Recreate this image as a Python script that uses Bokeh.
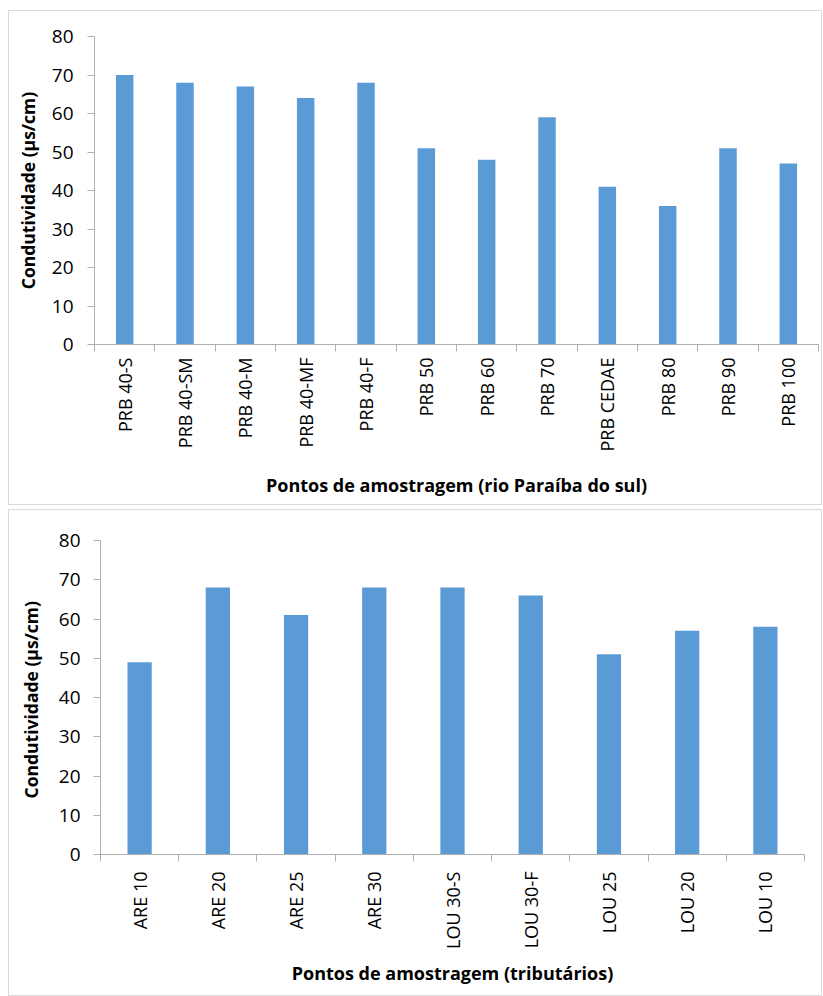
import math
import numpy as np
from bokeh.plotting import figure
from bokeh.models import FixedTicker, Range1d
from bokeh.embed import file_html
from bokeh.resources import INLINE

# ---- data ----
rio_points = ["PRB 40-S", "PRB 40-SM", "PRB 40-M", "PRB 40-MF", "PRB 40-F", "PRB 50",
              "PRB 60", "PRB 70", "PRB CEDAE", "PRB 80", "PRB 90", "PRB 100"]
rio_values = [70, 68, 67, 64, 68, 51, 48, 59, 41, 36, 51, 47]

trib_points = ["ARE 10", "ARE 20", "ARE 25", "ARE 30", "LOU 30-S", "LOU 30-F",
               "LOU 25", "LOU 20", "LOU 10"]
trib_values = [49, 68, 61, 68, 68, 66, 51, 57, 58]

y_ticks = [0, 10, 20, 30, 40, 50, 60, 70, 80]

BAR = "#5b9bd5"
AXIS = "#b0b0b0"
FONT = "Open Sans"


def make_panel(cats, vals, xtitle, ytitle, width, height, borders, bar_w,
               ylab_standoff, ytitle_standoff, xlab_standoff, xtitle_standoff, margin):
    n = len(cats)
    xs = np.arange(n) + 0.5
    p = figure(width=width, height=height, output_backend="svg",
               toolbar_location=None, x_range=Range1d(0, n),
               y_range=Range1d(0, 80), min_border_left=borders[0],
               min_border_right=borders[1], min_border_top=borders[2],
               min_border_bottom=borders[3], margin=margin)
    p.styles = {"border": "1px solid #d9d9d9", "box-sizing": "border-box"}
    p.vbar(x=xs, top=vals, width=bar_w, color=BAR, line_color=None)
    p.outline_line_color = None
    p.xgrid.visible = False
    p.ygrid.visible = False

    # x axis: labels at centres, ticks at boundaries
    xa = p.xaxis[0]
    xa.ticker = FixedTicker(ticks=list(xs), minor_ticks=list(range(n + 1)))
    xa.major_label_overrides = {float(x): c for x, c in zip(xs, cats)}
    xa.major_label_orientation = math.pi / 2
    xa.major_tick_out = 0
    xa.major_tick_in = 0
    xa.minor_tick_out = 7
    xa.minor_tick_in = 0
    xa.minor_tick_line_color = AXIS
    xa.axis_line_color = AXIS
    xa.major_label_text_font = FONT
    xa.major_label_text_font_size = "18px"
    xa.major_label_text_color = "#000000"
    xa.major_label_standoff = xlab_standoff
    xa.axis_label = xtitle
    xa.axis_label_text_font = FONT
    xa.axis_label_text_font_style = "bold"
    xa.axis_label_text_font_size = "18px"
    xa.axis_label_text_color = "#000000"
    xa.axis_label_standoff = xtitle_standoff

    ya = p.yaxis[0]
    ya.ticker = FixedTicker(ticks=y_ticks)
    ya.major_tick_out = 7
    ya.major_tick_in = 0
    ya.minor_tick_out = 0
    ya.minor_tick_in = 0
    ya.major_tick_line_color = AXIS
    ya.axis_line_color = AXIS
    ya.major_label_text_font = FONT
    ya.major_label_text_font_size = "19px"
    ya.major_label_text_color = "#000000"
    ya.major_label_standoff = ylab_standoff
    ya.axis_label = ytitle
    ya.axis_label_text_font = FONT
    ya.axis_label_text_font_style = "bold"
    ya.axis_label_text_font_size = "17.5px"
    ya.axis_label_text_color = "#000000"
    ya.axis_label_standoff = ytitle_standoff
    return p


top = make_panel(rio_points, rio_values, "Pontos de amostragem (rio Paraíba do sul)",
                 "Condutividade (µs/cm)", 814, 495, (85, 5, 25, 162), 0.29,
                 14, 9, 6, 18, (10, 0, 0, 8))
bottom = make_panel(trib_points, trib_values, "Pontos de amostragem (tributários)",
                    "Condutividade  (µs/cm)", 814, 487, (91, 19, 30, 143), 0.31,
                    13, 13, 10, 9, (4, 0, 0, 8))

open("out.html", "w").write(file_html([top, bottom], INLINE))
